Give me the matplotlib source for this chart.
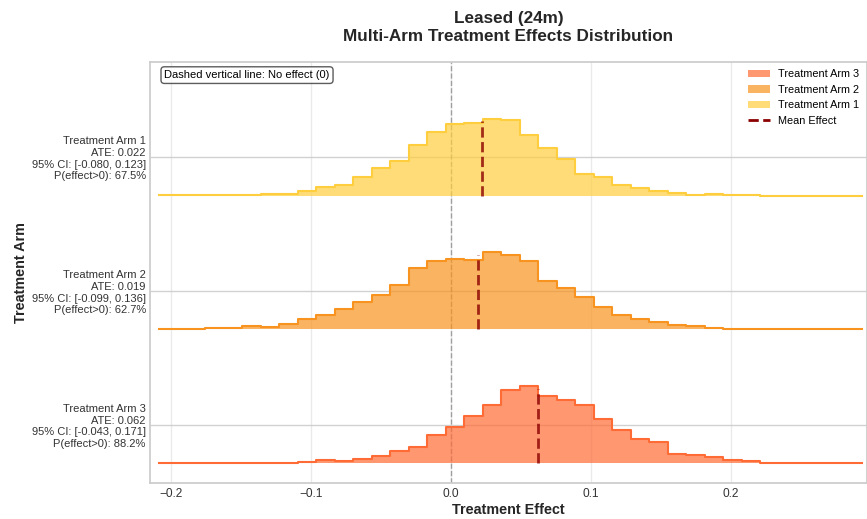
import matplotlib
matplotlib.use('Agg')
import numpy as np
import matplotlib.pyplot as plt
from matplotlib.patches import Patch
from matplotlib.lines import Line2D

plt.rcParams['font.family'] = ['Liberation Sans', 'DejaVu Sans']

# posterior draws binned on a common grid (bin counts per arm)
effect_min, effect_max, n_bins = -0.2152, 0.3002, 39
arm_names = ['Treatment Arm 1', 'Treatment Arm 2', 'Treatment Arm 3']
arm1_counts = [1, 3, 1, 1, 2, 2, 5, 5, 14, 26, 31, 55, 83, 105, 153, 191, 214, 219, 231, 226,
               183, 142, 110, 66, 57, 33, 22, 13, 7, 2, 5, 2, 1, 0, 0, 0, 0, 0, 0]
arm2_counts = [0, 0, 2, 4, 4, 9, 7, 16, 30, 42, 62, 82, 102, 132, 182, 204, 209, 207, 229, 220,
               204, 145, 124, 97, 67, 43, 32, 21, 12, 9, 4, 1, 0, 0, 0, 0, 0, 0, 0]
arm3_counts = [0, 0, 0, 0, 0, 0, 0, 2, 5, 11, 8, 14, 22, 36, 50, 85, 107, 140, 174, 220,
               230, 200, 190, 174, 132, 100, 73, 63, 29, 25, 18, 10, 7, 2, 0, 0, 0, 0, 0]
ate = [0.022, 0.019, 0.062]
ci_low = [-0.080, -0.099, -0.043]
ci_high = [0.123, 0.136, 0.171]
p_positive = [67.5, 62.7, 88.2]
colors = ['#FFCE3E', '#F7931E', '#FF6B35']

edges = np.linspace(effect_min, effect_max, n_bins + 1)
centers = (edges[:-1] + edges[1:]) / 2
counts = [arm1_counts, arm2_counts, arm3_counts]

fig = plt.figure(figsize=(8.67, 5.19), dpi=100)
ax = fig.add_axes([150 / 867, 1 - 482.7 / 519, 717 / 867, 421 / 519])

peak = 0.575
n = len(arm_names)
handles = []
ticks, ticklabels = [], []
for i in reversed(range(n)):
    base = n - 1 - i
    h = np.array(counts[i], dtype=float)
    h = h / h.max() * peak
    ax.fill_between(centers, base, base + h, step='mid', color=colors[i],
                    alpha=0.7, lw=0, zorder=2)
    ax.step(centers, base + h, where='mid', color=colors[i], lw=1.5, zorder=3)
    ax.plot([ate[i], ate[i]], [base, base + peak * 0.97], color='darkred',
            ls='--', lw=2, alpha=0.8, zorder=4)
    handles.append(Patch(facecolor=colors[i], alpha=0.7, label=arm_names[i]))
    ticks.append(base + peak / 2)
    ticklabels.append(f'{arm_names[i]}\nATE: {ate[i]:.3f}\n'
                      f'95% CI: [{ci_low[i]:.3f}, {ci_high[i]:.3f}]\n'
                      f'P(effect>0): {p_positive[i]:.1f}%')
handles.append(Line2D([], [], color='darkred', ls='--', lw=2, label='Mean Effect'))

ax.axvline(0, color='gray', ls='--', lw=1, alpha=0.7, zorder=1)

ax.set_xlim(effect_min, 0.2972)
ax.set_ylim(-0.145, 3.0)
ax.set_yticks(ticks)
ax.set_yticklabels(ticklabels, fontsize=8, color='#333333')
ax.tick_params(axis='x', labelsize=8.6, colors='#333333', length=0, pad=4)
ax.tick_params(axis='y', length=0, pad=3)

ax.set_axisbelow(True)
ax.grid(axis='y', color='#cccccc', lw=1, alpha=0.9)
ax.grid(axis='x', color='#cccccc', lw=1, alpha=0.4)
for s in ax.spines.values():
    s.set_color('#cccccc')
    s.set_linewidth(1.25)

ax.set_xlabel('Treatment Effect', fontsize=10.4, fontweight='bold', color='#262626', labelpad=2)
ax.set_ylabel('Treatment Arm', fontsize=10.4, fontweight='bold', color='#262626', labelpad=3)
ax.set_title('Leased (24m)\nMulti-Arm Treatment Effects Distribution',
             fontsize=12.3, fontweight='bold', color='#262626', pad=15, linespacing=1.25)

ax.legend(handles=handles, loc='upper right', fontsize=7.8, frameon=False, borderaxespad=0.3)
ax.text(0.02, 0.98, 'Dashed vertical line: No effect (0)', transform=ax.transAxes,
        fontsize=8, va='top', ha='left',
        bbox=dict(boxstyle='round', facecolor='white', edgecolor='#333333', alpha=0.8))

fig.savefig('out.png', dpi=100)
